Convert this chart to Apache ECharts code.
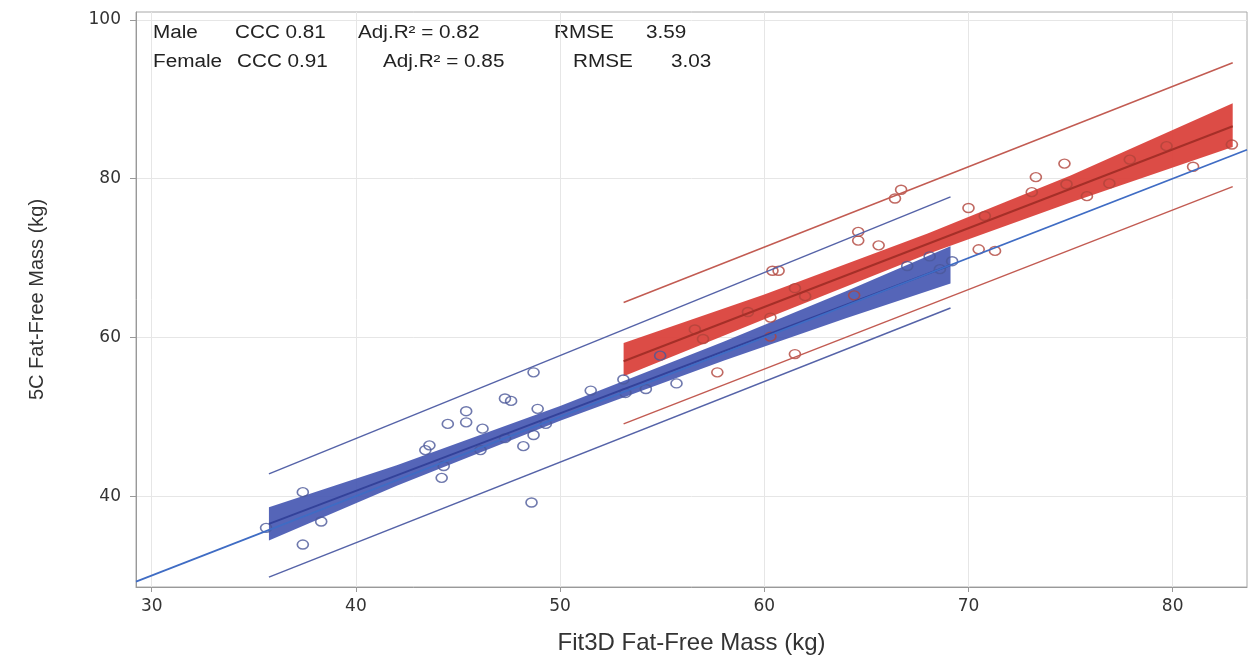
<!DOCTYPE html>
<html>
<head>
<meta charset="utf-8">
<script src="https://cdn.jsdelivr.net/npm/echarts@6/dist/echarts.min.js"></script>
<style>html,body{margin:0;padding:0;background:#fff;}#c{width:1250px;height:660px;}</style>
</head>
<body>
<div id="c"></div>
<script>
// ---- data ----
const xTicks = [30, 40, 50, 60, 70, 80];
const yTicks = [40, 60, 80, 100];

// Female (blue) observations
const femaleX = [35.6, 37.4, 38.3, 37.4, 43.4, 43.6, 44.3, 44.2, 44.5, 45.4, 45.4, 46.2, 46.1, 47.3, 47.6, 47.3, 48.2, 48.7, 48.7, 48.9, 49.3, 48.6, 51.5, 53.2, 53.1, 54.2, 55.7, 54.9, 67.0, 68.1, 68.6, 69.2];
const femaleY = [36.0, 40.5, 36.8, 33.9, 45.8, 46.4, 43.8, 42.3, 49.1, 50.7, 49.3, 48.5, 45.8, 52.3, 52.0, 47.3, 46.3, 55.6, 47.7, 51.0, 49.1, 39.2, 53.3, 53.0, 54.7, 53.5, 54.2, 57.7, 69.0, 70.2, 68.6, 69.6];

// Male (red) observations
const maleX = [57.7, 56.6, 57.0, 59.2, 60.3, 60.3, 61.5, 61.5, 62.0, 60.4, 60.7, 66.7, 66.4, 64.6, 64.6, 65.6, 70.0, 70.5, 71.3, 64.4, 73.3, 74.7, 73.1, 74.8, 75.8, 76.9, 77.9, 79.7, 81.0, 82.9, 70.8];
const maleY = [55.6, 61.0, 59.8, 63.2, 62.5, 60.1, 57.9, 66.2, 65.2, 68.4, 68.4, 78.6, 77.5, 73.3, 72.2, 71.6, 76.3, 71.1, 70.9, 65.3, 80.2, 81.9, 78.3, 79.3, 77.8, 79.4, 82.4, 84.1, 81.5, 84.3, 75.3];

// Female fit, confidence band and prediction limits
const femaleFitX = [35.74, 69.12];
const femaleFitY = [36.5, 69.1];
const femaleBandX = [35.74, 42, 50, 58, 64, 69.12];
const femaleBandLo = [34.4, 41.3, 49.5, 57.05, 62.4, 66.8];
const femaleBandHi = [38.6, 43.9, 51.35, 59.45, 65.8, 71.5];
const femalePredUp = [42.8, 77.7];
const femalePredLo = [29.8, 63.7];

// Male fit, confidence band and prediction limits
const maleFitX = [53.11, 82.94];
const maleFitY = [57.0, 86.6];
const maleBandX = [53.11, 60, 68, 75, 82.94];
const maleBandLo = [55.1, 62.3, 70.5, 77.0, 84.0];
const maleBandHi = [59.3, 65.4, 73.1, 80.4, 89.5];
const malePredUp = [64.4, 94.6];
const malePredLo = [49.1, 79.0];

// Identity line
const identityX = [29.23, 83.64];

// Annotation
const statsMale = ['Male', 'CCC 0.81', 'Adj.R\u00B2 = 0.82', 'RMSE', '3.59'];
const statsFemale = ['Female', 'CCC 0.91', 'Adj.R\u00B2 = 0.85', 'RMSE', '3.03'];

// ---- helpers ----
const zip = (xs, ys) => xs.map((x, i) => [x, ys[i]]);
function bandSeries(xs, lo, hi, color) {
  return {
    type: 'custom',
    silent: true,
    data: xs.map((x, i) => [x, lo[i], hi[i]]),
    encode: { x: 0, y: [1, 2] },
    renderItem: function (params, api) {
      if (params.dataIndex !== 0) return;
      const pts = [];
      for (let i = 0; i < xs.length; i++) pts.push(api.coord([xs[i], hi[i]]));
      for (let i = xs.length - 1; i >= 0; i--) pts.push(api.coord([xs[i], lo[i]]));
      return { type: 'polygon', shape: { points: pts }, style: { fill: color } };
    }
  };
}
function lineSeries(xs, ys, color, width) {
  return {
    type: 'line', data: zip(xs, ys), showSymbol: false, silent: true,
    lineStyle: { color: color, width: width }, animation: false
  };
}
function textEl(t, x, y) {
  return { type: 'text', x: x, y: y, scaleX: 1.15, style: { text: t, fontSize: 18, fontFamily: 'Liberation Sans', fill: '#222', verticalAlign: 'middle' } };
}

const maleCols = [153, 235, 358, 554, 646];
const femaleCols = [153, 237, 383, 573, 671];

const blueLine = '#5563a8';
const redLine = '#c25b52';

const chart = echarts.init(document.getElementById('c'));
chart.setOption({
  animation: false,
  backgroundColor: '#fff',
  grid: { left: 136, right: 3, top: 12, bottom: 72, show: true, borderColor: '#a8a8a8', borderWidth: 1 },
  xAxis: {
    type: 'value', min: 29.23, max: 83.64,
    name: 'Fit3D Fat-Free Mass (kg)', nameLocation: 'middle', nameGap: 44,
    nameTextStyle: { fontFamily: 'Liberation Sans', fontSize: 24, color: '#333' },
    axisLine: { show: true, lineStyle: { color: '#999' } },
    axisTick: { show: true, customValues: xTicks, length: 5, lineStyle: { color: '#999' } },
    axisLabel: { customValues: xTicks, fontFamily: 'DejaVu Sans', fontSize: 17, color: '#333', margin: 11 },
    splitLine: { show: true, lineStyle: { color: '#e6e6e6' } }
  },
  yAxis: {
    type: 'value', min: 28.55, max: 101,
    name: '5C Fat-Free Mass (kg)', nameLocation: 'middle', nameGap: 89, nameRotate: 90,
    nameTextStyle: { fontFamily: 'Liberation Sans', fontSize: 20, color: '#333' },
    axisLine: { show: true, lineStyle: { color: '#999' } },
    axisTick: { show: true, customValues: yTicks, length: 6, lineStyle: { color: '#999' } },
    axisLabel: { customValues: yTicks, fontFamily: 'DejaVu Sans', fontSize: 17, color: '#333', margin: 15 },
    splitLine: { show: true, lineStyle: { color: '#e6e6e6' } }
  },
  graphic: [
    ...statsMale.map((t, i) => textEl(t, maleCols[i], 33)),
    ...statsFemale.map((t, i) => textEl(t, femaleCols[i], 62))
  ],
  series: [
    lineSeries(femaleFitX, femalePredUp, blueLine, 1.5),
    lineSeries(femaleFitX, femalePredLo, blueLine, 1.5),
    bandSeries(femaleBandX, femaleBandLo, femaleBandHi, 'rgba(70,88,178,0.92)'),
    lineSeries(femaleFitX, femaleFitY, '#33429a', 2),
    bandSeries(maleBandX, maleBandLo, maleBandHi, 'rgba(218,66,60,0.95)'),
    lineSeries(maleFitX, maleFitY, '#a52f28', 2),
    lineSeries(maleFitX, malePredUp, redLine, 1.5),
    lineSeries(maleFitX, malePredLo, redLine, 1.5),
    lineSeries(identityX, identityX, '#3f6cc4', 1.8),
    {
      type: 'scatter', data: zip(femaleX, femaleY), symbol: 'circle', symbolSize: [11, 9], silent: true,
      itemStyle: { color: 'rgba(0,0,0,0)', borderColor: '#4b5798', borderWidth: 1.5 }
    },
    {
      type: 'scatter', data: zip(maleX, maleY), symbol: 'circle', symbolSize: [11, 9], silent: true,
      itemStyle: { color: 'rgba(0,0,0,0)', borderColor: '#b0433b', borderWidth: 1.5 }
    }
  ]
});
</script>
</body>
</html>
